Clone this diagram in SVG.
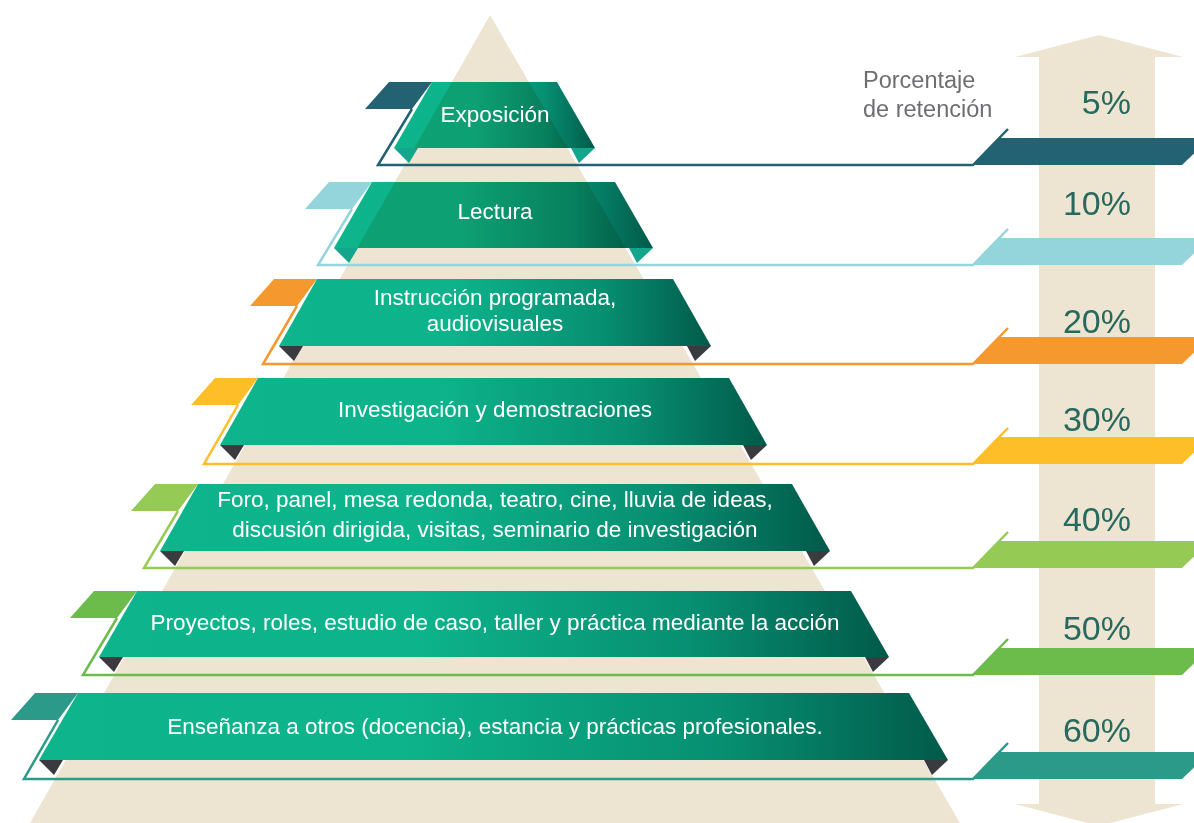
<svg xmlns="http://www.w3.org/2000/svg" width="1194" height="823" viewBox="0 0 1194 823">
<style>
.bg{fill:#ede4d2}
.band{fill:url(#g)}
.top{mix-blend-mode:multiply}
.fold{fill:#3a3b3e}
.foldt{fill:#14a68c}
.lbl{font-family:"Liberation Sans",Arial,sans-serif;font-size:22.5px;fill:#ffffff;text-anchor:middle}
.pct{font-family:"Liberation Sans",Arial,sans-serif;font-size:34px;fill:#28695f;text-anchor:end}
.ttl{font-family:"Liberation Sans",Arial,sans-serif;font-size:23.5px;fill:#6d6e71}
.ln{fill:none;stroke-width:2.5}
</style>
<defs>
<linearGradient id="g" x1="0" y1="0" x2="1" y2="0">
<stop offset="0" stop-color="#0eb48c"/>
<stop offset="0.4" stop-color="#0db38b"/>
<stop offset="0.75" stop-color="#078f72"/>
<stop offset="1" stop-color="#015a4a"/>
</linearGradient>
</defs>
<g id="pyramid"><polygon class="bg" points="490,15 960,823 30,823"/></g>
<g id="arrow"><polygon class="bg" points="1099,35 1183,57 1155,57 1155,804 1183,804 1099,826 1015,804 1039,804 1039,57 1015,57"/></g>
<g id="title"><text class="ttl" x="863" y="88">Porcentaje</text><text class="ttl" x="863" y="117">de retención</text></g>
<g id="connectors">
<path class="ln" stroke="#236273" d="M412,109 L378,165 H973 L1008,129"/>
<path class="ln" stroke="#93d5db" d="M352,209 L318,265 H973 L1008,229"/>
<path class="ln" stroke="#f5992e" d="M297,306 L263,364 H973 L1008,328"/>
<path class="ln" stroke="#fdbe28" d="M238,405 L204,464 H973 L1008,428"/>
<path class="ln" stroke="#95cb55" d="M178,511 L144,568 H973 L1008,532"/>
<path class="ln" stroke="#6bbc4b" d="M117,618 L83,675 H973 L1008,639"/>
<path class="ln" stroke="#2c9a89" d="M58,720 L24,779 H973 L1008,743"/>
</g>
<g id="level1">
<polygon fill="#236273" points="389,82 432,82 412,109 365,109"/>
<polygon fill="#236273" points="973,165 1000,138 1210,138 1182,165"/>
<polygon class="band top" points="432,82 557,82 595,148 394,148"/>
<polygon class="foldt" points="394,148 418,148 409,163"/>
<polygon class="foldt" points="571,148 595,148 579,163"/>
<text class="lbl" x="495" y="122">Exposición</text>
<text class="pct" x="1131" y="114">5%</text>
</g>
<g id="level2">
<polygon fill="#93d5db" points="329,182 372,182 352,209 305,209"/>
<polygon fill="#93d5db" points="973,265 1000,238 1210,238 1182,265"/>
<polygon class="band top" points="372,182 615,182 653,248 334,248"/>
<polygon class="foldt" points="334,248 358,248 349,263"/>
<polygon class="foldt" points="629,248 653,248 637,263"/>
<text class="lbl" x="495" y="219">Lectura</text>
<text class="pct" x="1131" y="215">10%</text>
</g>
<g id="level3">
<polygon fill="#f5992e" points="274,279 317,279 297,306 250,306"/>
<polygon fill="#f5992e" points="973,364 1000,337 1210,337 1182,364"/>
<polygon class="band" points="317,279 673,279 711,346 279,346"/>
<polygon class="fold" points="279,346 303,346 294,361"/>
<polygon class="fold" points="687,346 711,346 695,361"/>
<text class="lbl" x="495" y="305">Instrucción programada,</text>
<text class="lbl" x="495" y="331">audiovisuales</text>
<text class="pct" x="1131" y="333">20%</text>
</g>
<g id="level4">
<polygon fill="#fdbe28" points="215,378 258,378 238,405 191,405"/>
<polygon fill="#fdbe28" points="973,464 1000,437 1210,437 1182,464"/>
<polygon class="band" points="258,378 729,378 767,445 220,445"/>
<polygon class="fold" points="220,445 244,445 235,460"/>
<polygon class="fold" points="743,445 767,445 751,460"/>
<text class="lbl" x="495" y="417">Investigación y demostraciones</text>
<text class="pct" x="1131" y="431">30%</text>
</g>
<g id="level5">
<polygon fill="#95cb55" points="155,484 198,484 178,511 131,511"/>
<polygon fill="#95cb55" points="973,568 1000,541 1210,541 1182,568"/>
<polygon class="band" points="198,484 792,484 830,551 160,551"/>
<polygon class="fold" points="160,551 184,551 175,566"/>
<polygon class="fold" points="806,551 830,551 814,566"/>
<text class="lbl" x="495" y="507">Foro, panel, mesa redonda, teatro, cine, lluvia de ideas,</text>
<text class="lbl" x="495" y="537">discusión dirigida, visitas, seminario de investigación</text>
<text class="pct" x="1131" y="531">40%</text>
</g>
<g id="level6">
<polygon fill="#6bbc4b" points="94,591 137,591 117,618 70,618"/>
<polygon fill="#6bbc4b" points="973,675 1000,648 1210,648 1182,675"/>
<polygon class="band" points="137,591 851,591 889,657 99,657"/>
<polygon class="fold" points="99,657 123,657 114,672"/>
<polygon class="fold" points="865,657 889,657 873,672"/>
<text class="lbl" x="495" y="630">Proyectos, roles, estudio de caso, taller y práctica mediante la acción</text>
<text class="pct" x="1131" y="640">50%</text>
</g>
<g id="level7">
<polygon fill="#2c9a89" points="35,693 78,693 58,720 11,720"/>
<polygon fill="#2c9a89" points="973,779 1000,752 1210,752 1182,779"/>
<polygon class="band" points="78,693 909,693 948,760 39,760"/>
<polygon class="fold" points="39,760 63,760 54,775"/>
<polygon class="fold" points="924,760 948,760 932,775"/>
<text class="lbl" x="495" y="734">Enseñanza a otros (docencia), estancia y prácticas profesionales.</text>
<text class="pct" x="1131" y="742">60%</text>
</g>
</svg>
